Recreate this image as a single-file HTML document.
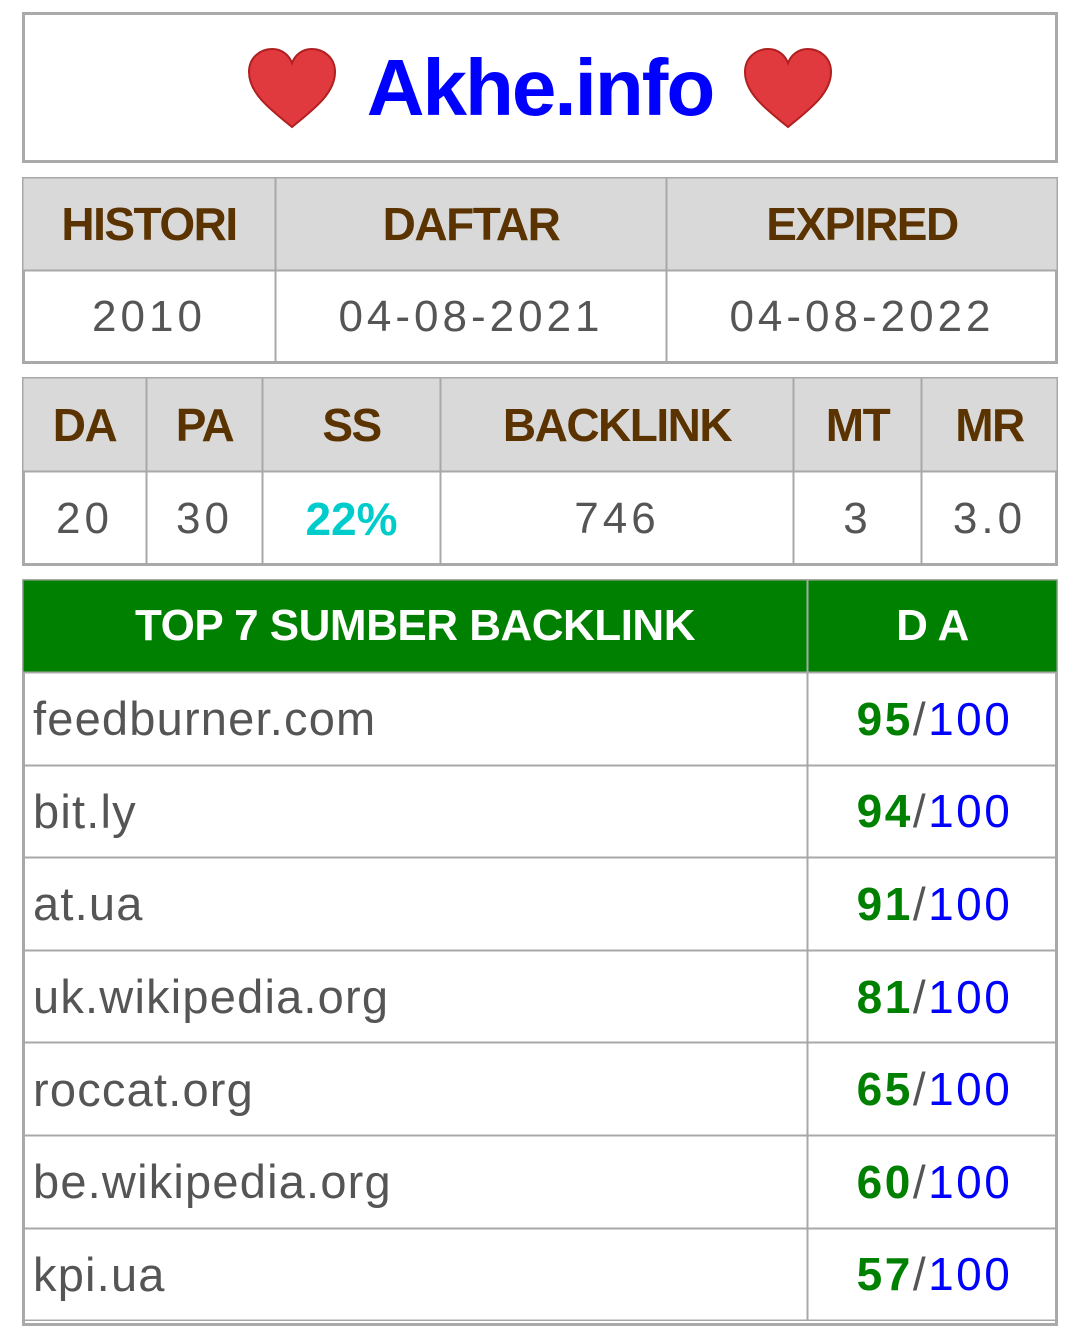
<!DOCTYPE html>
<html><head><meta charset="utf-8">
<style>
*{margin:0;padding:0;box-sizing:border-box}
body{width:1080px;height:1340px;background:#fff;position:relative;font-family:"Liberation Sans",sans-serif;overflow:hidden}
.box{position:absolute;border:3px solid #aaa}
.c{position:absolute;display:flex;align-items:center;justify-content:center;border:1.5px solid #a8a8a8;box-shadow:inset 0 0 0 0.5px #a8a8a8}
.h{background:#d9d9d9;color:#5a3300;font-weight:bold;font-size:46px;letter-spacing:-1.5px}
.d{color:#555;font-size:44px;letter-spacing:4px}
.g{background:#008000;color:#fff;font-weight:bold;font-size:44px;letter-spacing:-0.5px}
.dom{justify-content:flex-start;padding-left:10px;color:#555;font-size:47px;letter-spacing:1.2px}
.sc{font-size:46px;letter-spacing:2.5px;padding-left:4px}
.sc b{color:#008000}
.sc span{color:#0000ff}
</style></head><body>
<div class="box" style="left:22px;top:12px;width:1036px;height:151px;display:flex;align-items:center;justify-content:center;gap:30px">
<svg width="90" height="82" viewBox="0 0 90 82"><path d="M45 80 C20 60 2 45 2 25 C2 10 14 2 25 2 C35 2 42 8 45 16 C48 8 55 2 65 2 C76 2 88 10 88 25 C88 45 70 60 45 80Z" fill="#e0393e" stroke="#b02020" stroke-width="2"/></svg>
<span style="color:#0000ff;font-weight:bold;font-size:80px;letter-spacing:-2px">Akhe.info</span>
<svg width="90" height="82" viewBox="0 0 90 82"><path d="M45 80 C20 60 2 45 2 25 C2 10 14 2 25 2 C35 2 42 8 45 16 C48 8 55 2 65 2 C76 2 88 10 88 25 C88 45 70 60 45 80Z" fill="#e0393e" stroke="#b02020" stroke-width="2"/></svg>
</div>

<div class="box" style="left:22px;top:177px;width:1036px;height:187px"></div>
<div class="c h" style="left:22px;top:177px;width:254px;height:94px">HISTORI</div>
<div class="c h" style="left:275px;top:177px;width:392px;height:94px">DAFTAR</div>
<div class="c h" style="left:666px;top:177px;width:392px;height:94px">EXPIRED</div>
<div class="c d" style="left:22px;top:270px;width:254px;height:94px">2010</div>
<div class="c d" style="left:275px;top:270px;width:392px;height:94px">04-08-2021</div>
<div class="c d" style="left:666px;top:270px;width:392px;height:94px">04-08-2022</div>

<div class="box" style="left:22px;top:377px;width:1036px;height:189px"></div>
<div class="c h" style="left:22px;top:377px;width:125px;height:95px">DA</div>
<div class="c h" style="left:146px;top:377px;width:117px;height:95px">PA</div>
<div class="c h" style="left:262px;top:377px;width:179px;height:95px">SS</div>
<div class="c h" style="left:440px;top:377px;width:354px;height:95px">BACKLINK</div>
<div class="c h" style="left:793px;top:377px;width:129px;height:95px">MT</div>
<div class="c h" style="left:921px;top:377px;width:137px;height:95px">MR</div>
<div class="c d" style="left:22px;top:471px;width:125px;height:95px">20</div>
<div class="c d" style="left:146px;top:471px;width:117px;height:95px">30</div>
<div class="c" style="left:262px;top:471px;width:179px;height:95px;color:#00cccc;font-weight:bold;font-size:46px">22%</div>
<div class="c d" style="left:440px;top:471px;width:354px;height:95px">746</div>
<div class="c d" style="left:793px;top:471px;width:129px;height:95px">3</div>
<div class="c d" style="left:921px;top:471px;width:137px;height:95px">3.0</div>

<div class="box" style="left:22px;top:579px;width:1036px;height:747px"></div>
<div class="c g" style="left:22px;top:579px;width:786px;height:94px">TOP 7 SUMBER BACKLINK</div>
<div class="c g" style="left:807px;top:579px;width:251px;height:94px">D A</div>
<div id="rows"></div>
<script>
const domains=["feedburner.com","bit.ly","at.ua","uk.wikipedia.org","roccat.org","be.wikipedia.org","kpi.ua"];
const scores=[95,94,91,81,65,60,57];
const rows=document.getElementById('rows');
const top0=672,rh=92.6;
domains.forEach((d,i)=>{
  const y=top0+i*rh;
  const a=document.createElement('div');
  a.className='c dom';
  a.style.cssText=`left:22px;top:${y}px;width:786px;height:${rh+1}px`;
  a.textContent=d;
  
  
  rows.appendChild(a);
  const b=document.createElement('div');
  b.className='c sc';
  b.style.cssText=`left:807px;top:${y}px;width:251px;height:${rh+1}px`;
  b.innerHTML=`<b>${scores[i]}</b><span style="color:#555">/</span><span>100</span>`;
  
  
  rows.appendChild(b);
});
</script>
</body></html>
